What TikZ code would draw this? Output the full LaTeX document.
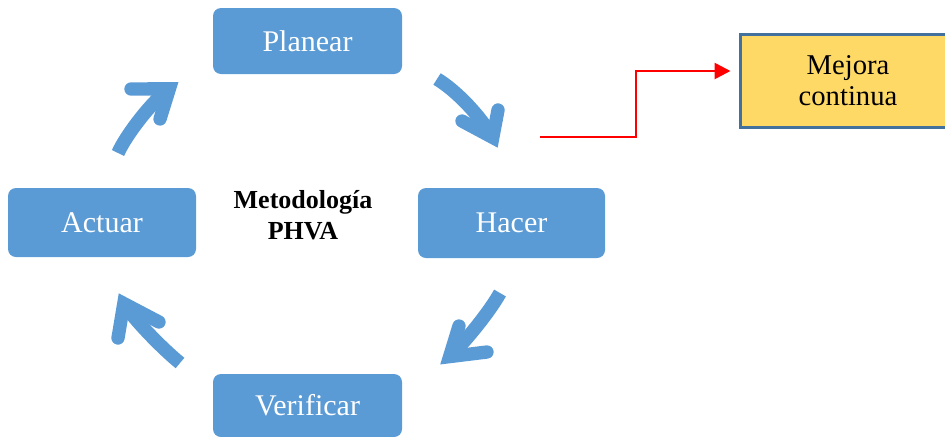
\documentclass[tikz,border=0pt]{standalone}
\usepackage{fontspec}
\setmainfont{Liberation Serif}
\usetikzlibrary{arrows.meta}
\definecolor{phvablue}{HTML}{5B9BD5}
\definecolor{notegold}{HTML}{FFD966}
\definecolor{noteedge}{HTML}{41719C}
\definecolor{linkred}{HTML}{FF0000}
\tikzset{
  stepbox/.style={rectangle, rounded corners=6pt, fill=phvablue, draw=none,
    text=white, inner sep=0pt, font=\fontsize{22.5}{27}\selectfont},
  notebox/.style={rectangle, fill=notegold, draw=noteedge, line width=2.25pt,
    align=center, inner sep=0pt, minimum width=162pt, minimum height=69.75pt,
    font=\fontsize{21.5}{23.25}\selectfont},
  centretext/.style={align=center, font=\bfseries\fontsize{19.5}{23.25}\selectfont},
  shaft/.style={draw=phvablue, line width=10.2pt, line cap=butt},
  headv/.style={draw=phvablue, line width=10pt, line cap=round,
    line join=miter, miter limit=10},
  link/.style={draw=linkred, line width=2pt,
    -{Triangle[length=12pt,width=12pt]}, shorten >=6pt}
}
% curved cycle arrow: start, two controls, head vertex, two arm ends
\newcommand{\cyclearrow}[6]{%
  \draw[shaft] #1 .. controls #2 and #3 .. #4;
  \draw[headv] #5 -- #4 -- #6;
}
\begin{document}
\begin{tikzpicture}[x=0.75pt,y=-0.75pt]
\useasboundingbox (0,0) rectangle (945,436);

% the four PHVA steps
\node[stepbox, minimum width=141.75pt, minimum height=49.5pt] (planear) at (307.5,41) {Planear};
\node[stepbox, minimum width=140.25pt, minimum height=52.5pt] (hacer) at (511.5,223) {Hacer};
\node[stepbox, minimum width=141pt, minimum height=51.75pt] (actuar) at (102,222.5) {Actuar};
\node[stepbox, minimum width=141.75pt, minimum height=47.25pt] (verificar) at (307.5,405.5) {Verificar};

% centre caption
\node[centretext] (phva) at (303,215) {Metodología\\PHVA};

% improvement box
\node[notebox] (mejora) at (848,80.5) {\raisebox{-1.5pt}{Mejora}\\\raisebox{-1.5pt}{continua}};

% cycle arrows
\cyclearrow{(437,79)}{(457,91)}{(481,117)}{(492.8,137.5)}{(498,110)}{(462,121)}
\cyclearrow{(500,293)}{(490,311)}{(466,341)}{(449.6,356.6)}{(459,326)}{(487,352)}
\cyclearrow{(180,363)}{(164,350)}{(135,321)}{(123.8,303.5)}{(118,338)}{(159,322)}
\cyclearrow{(118,153)}{(126,135)}{(152,101)}{(169.4,88.8)}{(131,89)}{(160,119)}

% link to continuous improvement
\coordinate (feed) at (540,137);
\coordinate (bend) at (636,71);
\draw[link] (feed) -| (bend) -- (mejora.west |- bend);
\end{tikzpicture}
\end{document}
